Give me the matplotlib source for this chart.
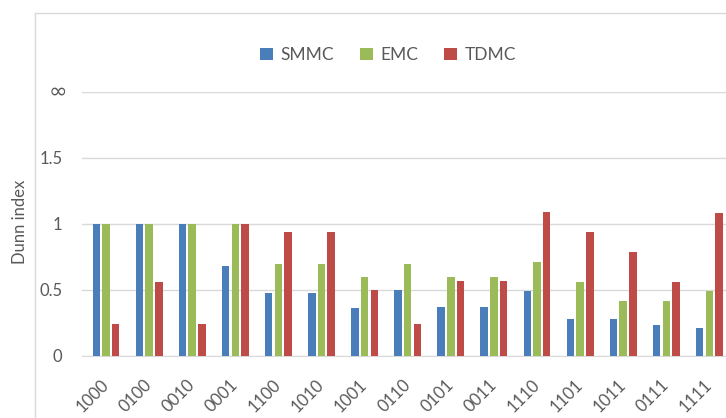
import matplotlib
matplotlib.use("Agg")
import matplotlib.pyplot as plt
import numpy as np
from matplotlib.lines import Line2D
import matplotlib.transforms as mtransforms

plt.rcParams['font.family'] = ['Lato', 'DejaVu Sans']

# codes on the x axis and the three methods
codes = ['1000', '0100', '0010', '0001', '1100', '1010', '1001', '0110',
         '0101', '0011', '1110', '1101', '1011', '0111', '1111']
smmc = [1.0, 1.0, 1.0, 0.68, 0.48, 0.48, 0.36, 0.50, 0.37, 0.37, 0.49, 0.28, 0.28, 0.235, 0.215]
emc = [1.0, 1.0, 1.0, 1.0, 0.70, 0.70, 0.60, 0.70, 0.60, 0.60, 0.71, 0.56, 0.42, 0.42, 0.49]
tdmc = [0.24, 0.56, 0.24, 1.0, 0.94, 0.94, 0.50, 0.24, 0.57, 0.57, 1.09, 0.94, 0.79, 0.56, 1.08]
ytick_vals = [0, 0.5, 1, 1.5, 2]
ytick_labels = ['0', '0.5', '1', '1.5', '∞']

W, H = 726, 418
fig = plt.figure(figsize=(W / 100, H / 100), dpi=100)

grey = '#595959'
line_grey = '#D9D9D9'
colors = ['#4A7EBB', '#9BBB59', '#BE4B48']

# plot area in pixels (runs past the right edge of the image)
left_px, right_px, top_px, bot_px = 82, 760, 92, 356
ax = fig.add_axes([left_px / W, 1 - bot_px / H, (right_px - left_px) / W, (bot_px - top_px) / H])

x = np.arange(len(codes))
step = 0.225
width = 0.175
for k, (vals, name) in enumerate([(smmc, 'SMMC'), (emc, 'EMC'), (tdmc, 'TDMC')]):
    ax.bar(x + (k - 1) * step, vals, width, color=colors[k], label=name, zorder=3)

x0 = -0.557
ax.set_xlim(x0, x0 + (right_px - left_px) / 43.1)
ax.set_ylim(0, 2)

# the top tick is written separately so the infinity sign can use its own font
ax.set_yticks(ytick_vals)
ax.set_yticklabels(ytick_labels[:-1] + [''])
ax.yaxis.grid(True, color=line_grey, linewidth=1, zorder=0)
ax.tick_params(axis='both', length=0, colors=grey, labelsize=12)
ax.tick_params(axis='y', pad=14)
inf_tr = mtransforms.blended_transform_factory(ax.transAxes, ax.transData)
ax.text(-15 / (right_px - left_px), ytick_vals[-1], ytick_labels[-1], transform=inf_tr,
        ha='right', va='center', fontsize=16, color=grey, family='DejaVu Sans')

ax.set_xticks(x)
ax.set_xticklabels(codes, rotation=45, ha='right', va='center',
                   rotation_mode='anchor', fontsize=12)
ax.tick_params(axis='x', pad=19)

for s in ['top', 'right', 'left']:
    ax.spines[s].set_visible(False)
ax.spines['bottom'].set_color(line_grey)

fig.text(20 / W, 1 - 222 / H, 'Dunn index', rotation=90, ha='center', va='center',
         color=grey, fontsize=12)

fig.legend(loc='center', bbox_to_anchor=(388 / W, 1 - 55 / H), ncol=3, frameon=False,
           fontsize=12.5, handlelength=0.75, handleheight=0.75, handletextpad=0.45,
           columnspacing=1.45, labelcolor=grey)

# chart area border
fig.add_artist(Line2D([35 / W, 1.2], [1 - 13 / H, 1 - 13 / H], color=line_grey, linewidth=1))
fig.add_artist(Line2D([35 / W, 35 / W], [1 - 13 / H, -0.1], color=line_grey, linewidth=1))

fig.savefig('out.png', dpi=100)
